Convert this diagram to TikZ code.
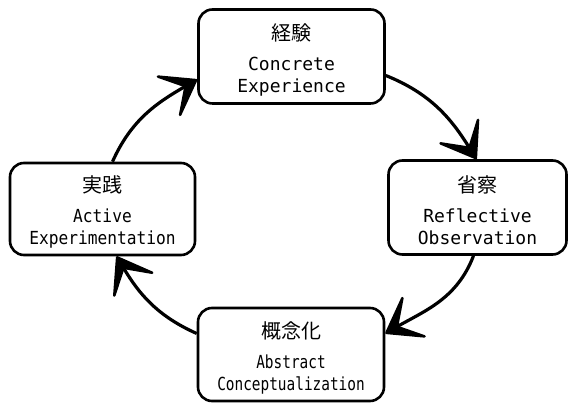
\documentclass[tikz,border=0pt]{standalone}
\usepackage{fontspec}
\setmainfont{DejaVu Sans Mono}
\newfontfamily\jpfont{Noto Sans CJK JP}
\newfontfamily\monoA[FakeStretch=0.9]{DejaVu Sans Mono}
\newfontfamily\monoB[FakeStretch=0.8]{DejaVu Sans Mono}
\usetikzlibrary{arrows.meta, positioning}
\tikzset{stagebox/.style={draw=black, line width=2.6pt, rounded corners=14pt, fill=white,
  align=center, minimum height=94pt, inner sep=0pt, font=\fontsize{18}{22}\selectfont},
%thick arcs with the big open heads
cyclearrow/.style={line width=3.2pt, -{Stealth[length=41pt,width=58pt,inset=25pt,round,line width=2.5pt]}}}
\newcommand{\jlabel}[1]{{\jpfont\fontsize{20}{22}\selectfont\rule{0pt}{23pt}#1}\\[8pt]}

\begin{document}
\begin{tikzpicture}[x=1pt,y=1pt]
 \useasboundingbox (0,0) rectangle (569,403);

 %Drawing the four stages
 \node[stagebox, minimum width=186pt] (ce) at (291.5,346.5) {\jlabel{経験}Concrete\\Experience};
 \node[stagebox, minimum width=178pt] (ro) at (477.5,195.5) {\jlabel{省察}Reflective\\Observation};
 \node[stagebox, minimum width=186pt, minimum height=93pt] (ac) at (291,48.5) {\jlabel{概念化}\monoB Abstract\\\monoB Conceptualization};
 \node[stagebox, minimum width=185pt, minimum height=92pt] (ae) at (102.5,194) {\jlabel{実践}\monoA Active\\\monoA Experimentation};

 %Drawing the arcs between them
 \draw[cyclearrow] ([xshift=10pt]ae.north) to[out=66,in=210] ([yshift=-23pt]ce.west);
 \draw[cyclearrow] ([yshift=-19pt]ce.east) to[out=-22,in=122] ([xshift=-1pt]ro.north);
 \draw[cyclearrow] ([xshift=-4pt]ro.south) to[out=-111,in=30] ([yshift=21pt]ac.east);
 \draw[cyclearrow] ([yshift=21pt]ac.west) to[out=156,in=-59] ([xshift=14pt]ae.south);

\end{tikzpicture}
\end{document}
